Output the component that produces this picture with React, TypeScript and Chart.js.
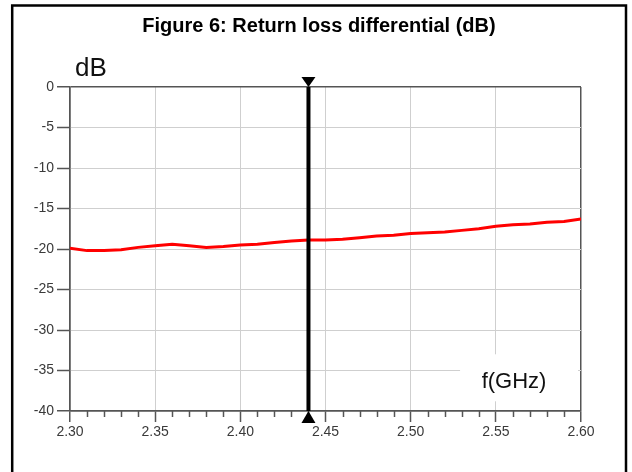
import React, { useEffect, useRef } from "react";
import { Chart, registerables } from "chart.js";

Chart.register(...registerables);

const TITLE = "Figure 6: Return loss differential (dB)";
const Y_LABEL = "dB";
const X_LABEL = "f(GHz)";

const FREQ_GHZ = [
  2.3, 2.31, 2.32, 2.33, 2.34, 2.35, 2.36, 2.37, 2.38, 2.39, 2.4, 2.41, 2.42, 2.43, 2.44, 2.45,
  2.46, 2.47, 2.48, 2.49, 2.5, 2.51, 2.52, 2.53, 2.54, 2.55, 2.56, 2.57, 2.58, 2.59, 2.6,
];
const RETURN_LOSS_DB = [
  -19.9, -20.2, -20.2, -20.1, -19.8, -19.6, -19.4, -19.6, -19.8, -19.7, -19.5, -19.4, -19.2, -19.0,
  -18.9, -18.9, -18.8, -18.6, -18.4, -18.3, -18.1, -18.0, -17.9, -17.7, -17.5, -17.2, -17.0, -16.9,
  -16.7, -16.6, -16.3,
];
const X_TICKS = [2.3, 2.35, 2.4, 2.45, 2.5, 2.55, 2.6];
const X_MINOR_TICKS = [
  2.31, 2.32, 2.33, 2.34, 2.36, 2.37, 2.38, 2.39, 2.41, 2.42, 2.43, 2.44, 2.46, 2.47, 2.48, 2.49,
  2.51, 2.52, 2.53, 2.54, 2.56, 2.57, 2.58, 2.59,
];
const Y_TICKS = [0, -5, -10, -15, -20, -25, -30, -35, -40];
const MARKER_FREQ = 2.44;

const FONT = "'Liberation Sans', Arial, sans-serif";
const AXIS_COLOR = "#555555";
const GRID_COLOR = "#cfcfcf";
const TICK_TEXT = "#3a3a3a";

const decorPlugin = {
  id: "decor",
  beforeDraw(chart: any) {
    const { ctx, width, height } = chart;
    ctx.save();
    ctx.fillStyle = "#ffffff";
    ctx.fillRect(0, 0, width, height);
    ctx.restore();
  },
  beforeDatasetsDraw(chart: any) {
    const { ctx, chartArea, scales } = chart;
    const xs = scales.x;
    ctx.save();
    // minor ticks on x axis
    ctx.strokeStyle = AXIS_COLOR;
    ctx.lineWidth = 1.5;
    X_MINOR_TICKS.forEach((v) => {
      const px = Math.round(xs.getPixelForValue(v)) + 0.5;
      ctx.beginPath();
      ctx.moveTo(px, chartArea.bottom);
      ctx.lineTo(px, chartArea.bottom + 6);
      ctx.stroke();
    });
    // white box behind axis name
    const bx = xs.getPixelForValue(2.529);
    ctx.fillStyle = "#ffffff";
    ctx.fillRect(bx, scales.y.getPixelForValue(-33.0), chartArea.right - 3 - bx, 47);
    ctx.fillStyle = "#111111";
    ctx.font = `22px ${FONT}`;
    ctx.textAlign = "center";
    ctx.textBaseline = "alphabetic";
    ctx.fillText(X_LABEL, xs.getPixelForValue(2.5607), scales.y.getPixelForValue(-37.1));
    ctx.restore();
  },
  afterDatasetsDraw(chart: any) {
    const { ctx, chartArea, scales } = chart;
    const mx = scales.x.getPixelForValue(MARKER_FREQ);
    ctx.save();
    // marker line
    ctx.strokeStyle = "#000000";
    ctx.lineWidth = 4;
    ctx.beginPath();
    ctx.moveTo(mx, chartArea.top);
    ctx.lineTo(mx, chartArea.bottom);
    ctx.stroke();
    ctx.fillStyle = "#000000";
    // top triangle pointing down
    ctx.beginPath();
    ctx.moveTo(mx - 7, chartArea.top - 10);
    ctx.lineTo(mx + 7, chartArea.top - 10);
    ctx.lineTo(mx, chartArea.top);
    ctx.closePath();
    ctx.fill();
    // bottom triangle pointing up
    ctx.beginPath();
    ctx.moveTo(mx - 7, chartArea.bottom + 12);
    ctx.lineTo(mx + 7, chartArea.bottom + 12);
    ctx.lineTo(mx, chartArea.bottom);
    ctx.closePath();
    ctx.fill();

    // y unit label
    ctx.fillStyle = "#111111";
    ctx.font = `26px ${FONT}`;
    ctx.textAlign = "left";
    ctx.textBaseline = "alphabetic";
    ctx.fillText(Y_LABEL, 75, 76);

    // title
    ctx.font = `bold 20px ${FONT}`;
    ctx.textAlign = "center";
    ctx.fillStyle = "#000000";
    ctx.fillText(TITLE, 319, 32);

    // outer frame
    ctx.strokeStyle = "#000000";
    ctx.lineWidth = 2.5;
    ctx.strokeRect(12.2, 5.5, 626 - 12.2, 500);
    ctx.restore();
  },
};

export default function App() {
  const canvasRef = useRef<HTMLCanvasElement | null>(null);

  useEffect(() => {
    const canvas = canvasRef.current;
    if (!canvas) return;
    const edge = (v: number, a: number, b: number) => Math.abs(v - a) < 1e-6 || Math.abs(v - b) < 1e-6;
    const chart = new Chart(canvas, {
      type: "line",
      data: {
        datasets: [
          {
            data: FREQ_GHZ.map((f, i) => ({ x: f, y: RETURN_LOSS_DB[i] })),
            borderColor: "#ff0000",
            borderWidth: 3,
            pointRadius: 0,
            tension: 0,
            fill: false,
          },
        ],
      },
      options: {
        animation: false,
        responsive: false,
        devicePixelRatio: 1,
        layout: { padding: { left: 0, right: 51, top: 87, bottom: 0 } },
        plugins: { legend: { display: false }, title: { display: false }, tooltip: { enabled: false } },
        scales: {
          x: {
            type: "linear",
            min: 2.3,
            max: 2.6,
            afterBuildTicks: (scale: any) => {
              scale.ticks = X_TICKS.map((v) => ({ value: v }));
            },
            afterFit: (scale: any) => {
              scale.height = 61;
            },
            ticks: {
              autoSkip: false,
              maxRotation: 0,
              padding: 2,
              color: TICK_TEXT,
              font: { family: FONT, size: 14 },
              callback: (v: any) => Number(v).toFixed(2),
            },
            grid: {
              color: (c: any) => (edge(c.tick?.value, 2.3, 2.6) ? AXIS_COLOR : GRID_COLOR),
              lineWidth: (c: any) => (edge(c.tick?.value, 2.3, 2.6) ? 1.5 : 1),
              tickColor: AXIS_COLOR,
              tickWidth: 1.5,
              tickLength: 11,
            },
            border: { display: true, color: AXIS_COLOR, width: 1.5 },
          },
          y: {
            type: "linear",
            min: -40,
            max: 0,
            afterBuildTicks: (scale: any) => {
              scale.ticks = Y_TICKS.map((v) => ({ value: v }));
            },
            afterFit: (scale: any) => {
              scale.width = 70;
            },
            ticks: {
              padding: 3,
              color: TICK_TEXT,
              font: { family: FONT, size: 14 },
              callback: (v: any) => String(v),
            },
            grid: {
              color: (c: any) => (edge(c.tick?.value, 0, -40) ? AXIS_COLOR : GRID_COLOR),
              lineWidth: (c: any) => (edge(c.tick?.value, 0, -40) ? 1.5 : 1),
              tickColor: AXIS_COLOR,
              tickWidth: 1.5,
              tickLength: 13,
            },
            border: { display: true, color: AXIS_COLOR, width: 1.5 },
          },
        },
      },
      plugins: [decorPlugin],
    });
    return () => chart.destroy();
  }, []);

  return (
    <canvas
      ref={canvasRef}
      width={632}
      height={472}
      style={{ position: "fixed", left: 0, top: 0, width: 632, height: 472, display: "block" }}
    />
  );
}
